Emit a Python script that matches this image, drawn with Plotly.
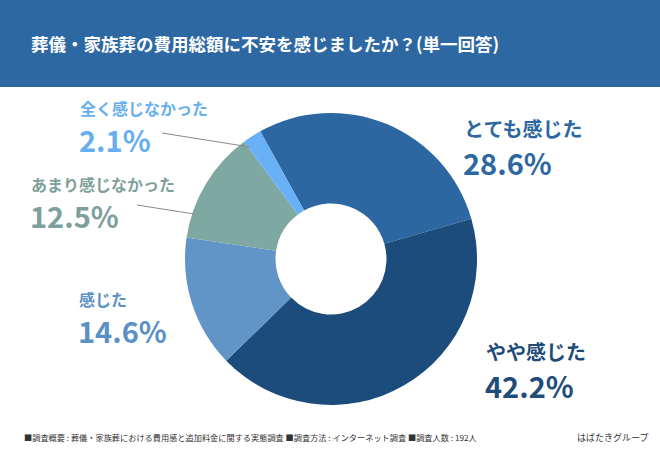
import plotly.graph_objects as go

title = "葬儀・家族葬の費用総額に不安を感じましたか？(単一回答)"
categories = ["とても感じた", "やや感じた", "感じた", "あまり感じなかった", "全く感じなかった"]
values = [28.6, 42.2, 14.6, 12.5, 2.1]
colors = ["#2d67a1", "#1c4c7c", "#6195c7", "#80a8a3", "#68b1f7"]
label_colors = ["#2d67a1", "#1f4c78", "#5b90c4", "#7e9f9b", "#66aef0"]
footer = "■調査概要 : 葬儀・家族葬における費用感と追加料金に関する実態調査 ■調査方法 : インターネット調査 ■調査人数 : 192人"
brand = "はばたきグループ"

W, H = 660, 450
FONT = "Noto Sans CJK JP"

def px(x):
    return x / W

def py(y):
    return 1 - y / H

cx, cy, r = 331, 259, 146

fig = go.Figure()
fig.add_trace(go.Pie(
    labels=categories, values=values, sort=False, direction="clockwise",
    rotation=331, hole=0.38, textinfo="none", hoverinfo="label+percent",
    marker=dict(colors=colors, line=dict(width=0)),
    domain=dict(x=[px(cx - r), px(cx + r)], y=[py(cy + r), py(cy - r)]),
    showlegend=False,
))

# label positions: (x of left edge, y of category line, y of value line, name size)
label_pos = {
    "とても感じた": (462, 128, 162, 20),
    "やや感じた": (484, 351, 385, 20),
    "感じた": (77, 299, 330, 16),
    "あまり感じなかった": (29, 184, 215, 16),
    "全く感じなかった": (78, 108, 139, 16),
}

annotations = []
for cat, val, col in zip(categories, values, label_colors):
    x0, y1, y2, s = label_pos[cat]
    annotations.append(dict(x=px(x0), y=py(y1), xref="paper", yref="paper",
                            text=f"<b>{cat}</b>", showarrow=False,
                            xanchor="left", yanchor="middle",
                            font=dict(family=FONT, size=s, color=col)))
    annotations.append(dict(x=px(x0 - 1), y=py(y2), xref="paper", yref="paper",
                            text=f"<b>{val:.1f}%</b>", showarrow=False,
                            xanchor="left", yanchor="middle",
                            font=dict(family=FONT, size=29, color=col)))

annotations.append(dict(x=px(29), y=py(44), xref="paper", yref="paper",
                        text=f"<b>{title}</b>", showarrow=False,
                        xanchor="left", yanchor="middle",
                        font=dict(family=FONT, size=17.5, color="white")))
annotations.append(dict(x=px(22), y=py(437), xref="paper", yref="paper",
                        text=footer, showarrow=False,
                        xanchor="left", yanchor="middle",
                        font=dict(family=FONT, size=8.2, color="#333333")))
annotations.append(dict(x=px(650), y=py(437), xref="paper", yref="paper",
                        text=brand, showarrow=False,
                        xanchor="right", yanchor="middle",
                        font=dict(family=FONT, size=9, color="#333333")))

shapes = [
    dict(type="rect", xref="paper", yref="paper", x0=0, x1=1, y0=py(87), y1=1,
         fillcolor="#2d68a3", line=dict(width=0), layer="below"),
    dict(type="line", xref="paper", yref="paper", x0=px(162), y0=py(133),
         x1=px(250), y1=py(147), line=dict(color="#8a8a8a", width=1)),
    dict(type="line", xref="paper", yref="paper", x0=px(137), y0=py(205),
         x1=px(194), y1=py(214), line=dict(color="#8a8a8a", width=1)),
]

fig.update_layout(
    width=W, height=H, margin=dict(l=0, r=0, t=0, b=0),
    paper_bgcolor="white", plot_bgcolor="white",
    annotations=annotations, shapes=shapes,
    font=dict(family=FONT),
)

fig.write_html("out.html")
